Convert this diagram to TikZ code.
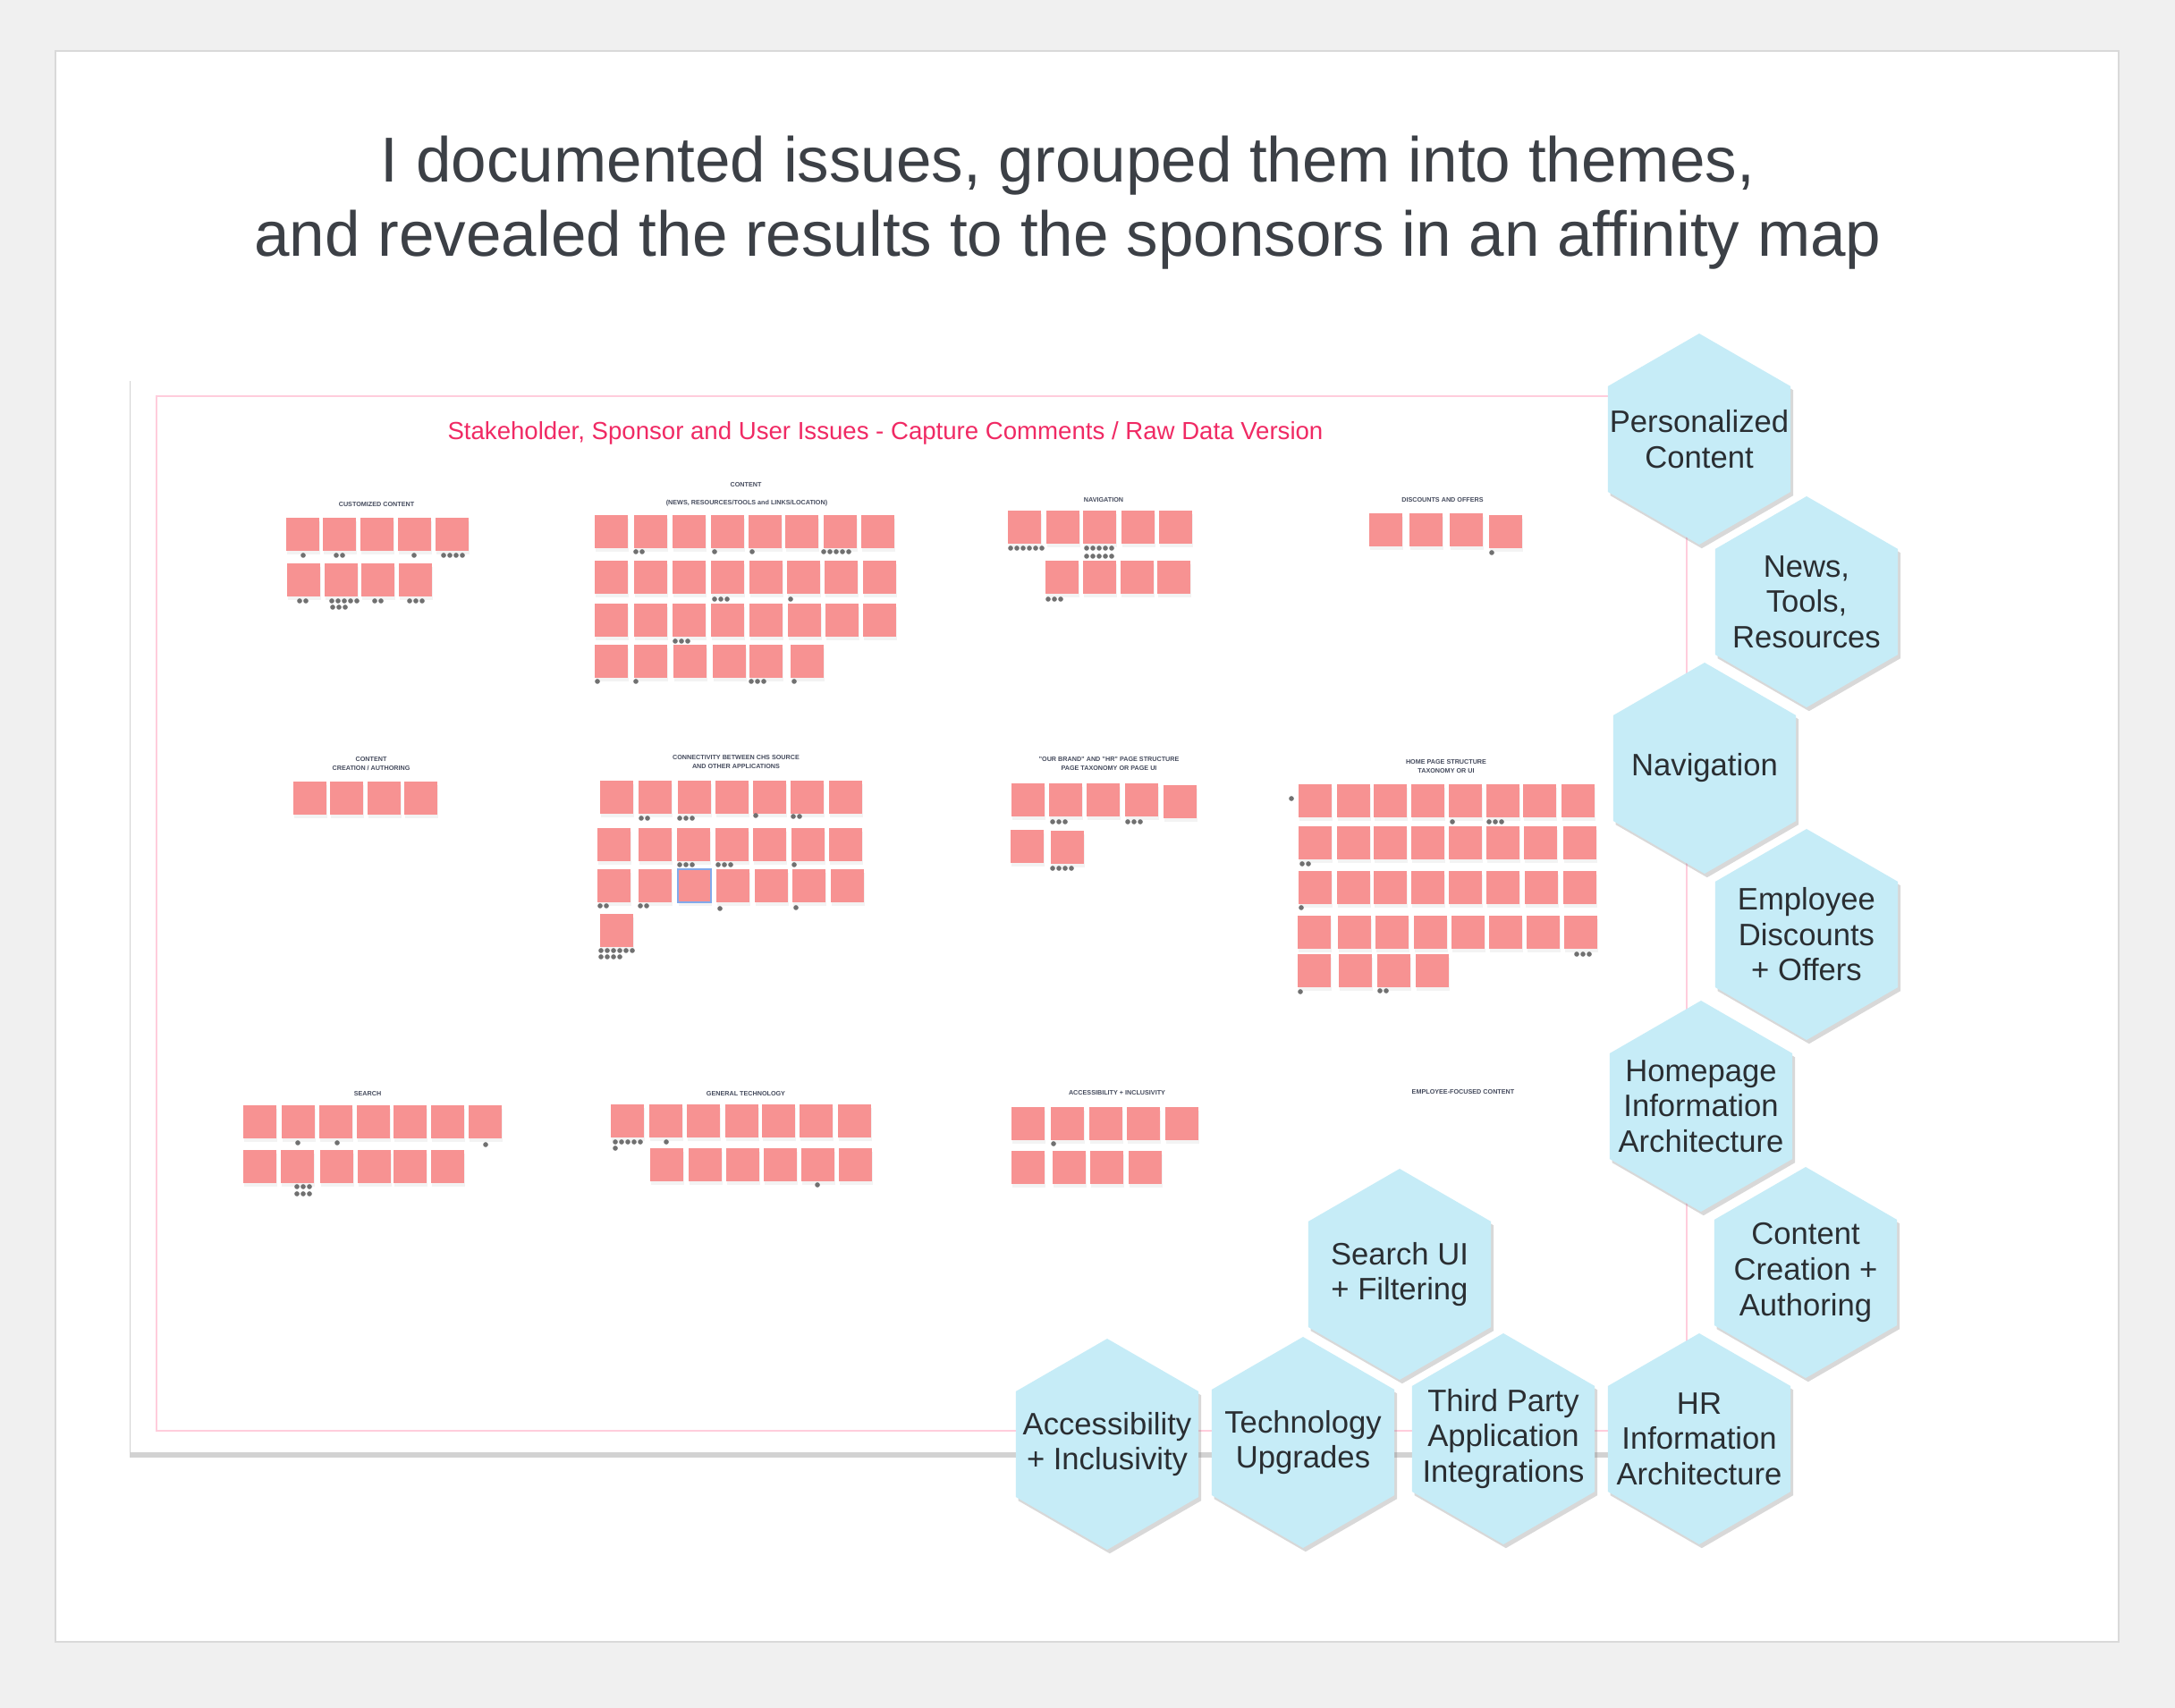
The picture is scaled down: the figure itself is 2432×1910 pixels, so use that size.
\documentclass[tikz,border=0pt]{standalone}
\usepackage{fontspec}
\setmainfont{Liberation Sans}
\usepackage{tikz}
\usetikzlibrary{shadows}

\definecolor{pagegray}{RGB}{240,240,240}
\definecolor{cardline}{RGB}{217,217,217}
\definecolor{titlegray}{RGB}{60,64,70}
\definecolor{boardpink}{RGB}{255,205,220}
\definecolor{subpink}{RGB}{240,42,100}
\definecolor{notepink}{RGB}{247,146,146}
\definecolor{votegray}{RGB}{112,112,112}
\definecolor{headslate}{RGB}{70,76,94}
\definecolor{hexblue}{RGB}{198,236,247}
\definecolor{hextext}{RGB}{42,46,50}
\definecolor{selblue}{RGB}{130,170,235}

\tikzset{
  note/.style={fill=notepink, drop shadow={shadow xshift=0.2pt, shadow yshift=-1pt, opacity=0.09}},
  vote/.style={fill=votegray},
  heading/.style={font=\fontsize{2.05}{2.85}\selectfont\bfseries, text=headslate, align=center},
  hexcell/.style={fill=hexblue, drop shadow={shadow xshift=0.8pt, shadow yshift=-1.2pt, opacity=0.3}},
  hexlabel/.style={font=\fontsize{9.85}{11.25}\selectfont, text=hextext, align=center},
  titletext/.style={font=\fontsize{20.2}{23.6}\selectfont, text=titlegray, anchor=base},
}

\begin{document}
\begin{tikzpicture}[x=0.01cm, y=-0.01cm]
  \useasboundingbox (0,0) rectangle (2432,1910);
  \fill[pagegray] (0,0) rectangle (2432,1910);
  \filldraw[fill=white, draw=cardline, line width=0.8pt] (62,57) rectangle (2369,1836);

  \node[titletext] (title1) at (1194,204) {I documented issues, grouped them into themes,};
  \node[titletext] (title2) at (1194,287) {and revealed the results to the sponsors in an affinity map};

  % the board
  \fill[white, drop shadow={shadow xshift=-0.4pt, shadow yshift=-1.6pt, opacity=0.35}] (146,420) rectangle (1907,1624);
  \draw[boardpink, line width=0.35pt] (175,443) rectangle (1886,1600);
  \node[anchor=base, text=subpink, font=\fontsize{7.85}{9}\selectfont] (boardtitle) at (990,492)
    {Stakeholder, Sponsor and User Issues - Capture Comments / Raw Data Version};

  \node[heading] (customized) at (421,564) {CUSTOMIZED CONTENT};
  \node[heading] (content) at (834,542) {CONTENT};
  \node[heading] (contentsub) at (835,563) {(NEWS, RESOURCES/TOOLS and LINKS/LOCATION)};
  \node[heading] (navigation) at (1234,559) {NAVIGATION};
  \node[heading] (discounts) at (1613,559) {DISCOUNTS AND OFFERS};
  \node[heading] (authoring) at (415,854) {CONTENT\\CREATION / AUTHORING};
  \node[heading] (connectivity) at (823,852) {CONNECTIVITY BETWEEN CHS SOURCE\\AND OTHER APPLICATIONS};
  \node[heading] (brand) at (1240,854) {"OUR BRAND" AND "HR" PAGE STRUCTURE\\PAGE TAXONOMY OR PAGE UI};
  \node[heading] (homepage) at (1617,857) {HOME PAGE STRUCTURE\\TAXONOMY OR UI};
  \node[heading] (search) at (411,1223) {SEARCH};
  \node[heading] (technology) at (834,1223) {GENERAL TECHNOLOGY};
  \node[heading] (access) at (1249,1222) {ACCESSIBILITY + INCLUSIVITY};
  \node[heading] (employee) at (1636,1221) {EMPLOYEE-FOCUSED CONTENT};

  % sticky notes, one row per entry
  \foreach \ny/\nxs in {
    579/{320,361,403,445,487}, 630/{321,363,404,446},
    576/{665,709,752,795,837,878,921,963}, 627/{665,709,752,795,838,880,922,965},
    675/{665,709,752,795,838,881,923,965}, 721/{665,709,753,797,838,884},
    571/{1127,1170,1211,1254,1296}, 627/{1169,1211,1253,1294},
    574/{1531,1576,1621}, 576/{1665},
    874/{328,369,411,452},
    873/{671,714,758,800,842,884,927}, 926/{668,714,757,800,842,885,927},
    972/{668,714,758,801,844,886,929}, 1022/{671},
    876/{1131,1173,1215,1258}, 878/{1301}, 928/{1130}, 929/{1175},
    877/{1452,1495,1536,1578,1620,1662,1703,1746}, 924/{1452,1495,1536,1578,1620,1662,1704,1748},
    974/{1452,1495,1536,1578,1620,1662,1705,1748}, 1024/{1451,1496,1538,1581,1623,1665,1707,1749},
    1067/{1451,1497,1540,1583},
    1236/{272,315,357,399,440,482,524}, 1286/{272,314,358,400,440,482},
    1235/{683,726,768,811,852,894,937}, 1284/{727,770,812,854,896,938},
    1238/{1131,1175,1218,1260,1303}, 1287/{1131,1177,1219,1262}}
  {\foreach \nx in \nxs {\fill[note] (\nx,\ny) rectangle +(37,37);}}
  \draw[selblue, line width=0.35pt] (758,972) rectangle +(37,37);

  % vote dots: first dot / row / count
  \foreach \vx/\vy/\vn in {
    339/621/1, 376/621/2, 463/621/1, 496/621/4, 335/672/2, 371/672/5, 372/679/3, 419/672/2, 458/672/3,
    711/617/2, 799/617/1, 841/617/1, 921/617/5, 799/670/3, 884/670/1, 755/717/3,
    668/762/1, 711/762/1, 840/762/3, 888/762/1,
    1130/613/6, 1215/613/5, 1215/622/5, 1172/670/3, 1668/618/1,
    717/915/2, 760/915/3, 845/912/1, 887/913/2, 760/967/3, 803/967/3, 888/967/1,
    671/1013/2, 716/1013/2, 805/1016/1, 890/1015/1, 672/1063/6, 672/1070/4,
    1177/919/3, 1261/919/3, 1177/971/4,
    1444/893/1, 1624/919/1, 1665/919/3, 1456/966/2, 1455/1015/1, 1763/1067/3, 1454/1109/1, 1543/1108/2,
    333/1278/1, 377/1278/1, 543/1280/1, 332/1327/3, 332/1335/3,
    688/1277/5, 688/1284/1, 745/1277/1, 914/1325/1, 1178/1279/1}
  {\foreach \k in {1,...,\vn} \fill[vote] ({\vx+7*(\k-1)},\vy) circle[radius=0.8pt];}

  % theme hexagons
  \foreach \cx/\cy/\hname/\htxt in {
    1900/491/personalized/{Personalized\\Content},
    2020/673/news/{News,\\Tools,\\Resources},
    1906/859/nav/{Navigation},
    2020/1045/offers/{Employee\\Discounts\\+ Offers},
    1902/1237/homeia/{Homepage\\Information\\Architecture},
    2019/1423/creation/{Content\\Creation +\\Authoring},
    1565/1425/searchui/{Search UI\\+ Filtering},
    1900/1609/hria/{HR\\Information\\Architecture},
    1681/1609/thirdparty/{Third Party\\Application\\Integrations},
    1457/1613/upgrades/{Technology\\Upgrades},
    1238/1615/inclusive/{Accessibility\\+ Inclusivity}}
  {
    \fill[hexcell] (\cx,\cy) +(90:118) -- +(150:118) -- +(210:118) -- +(270:118) -- +(330:118) -- +(30:118) -- cycle;
    \node[hexlabel] (\hname) at (\cx,\cy) {\htxt};
  }
\end{tikzpicture}
\end{document}
